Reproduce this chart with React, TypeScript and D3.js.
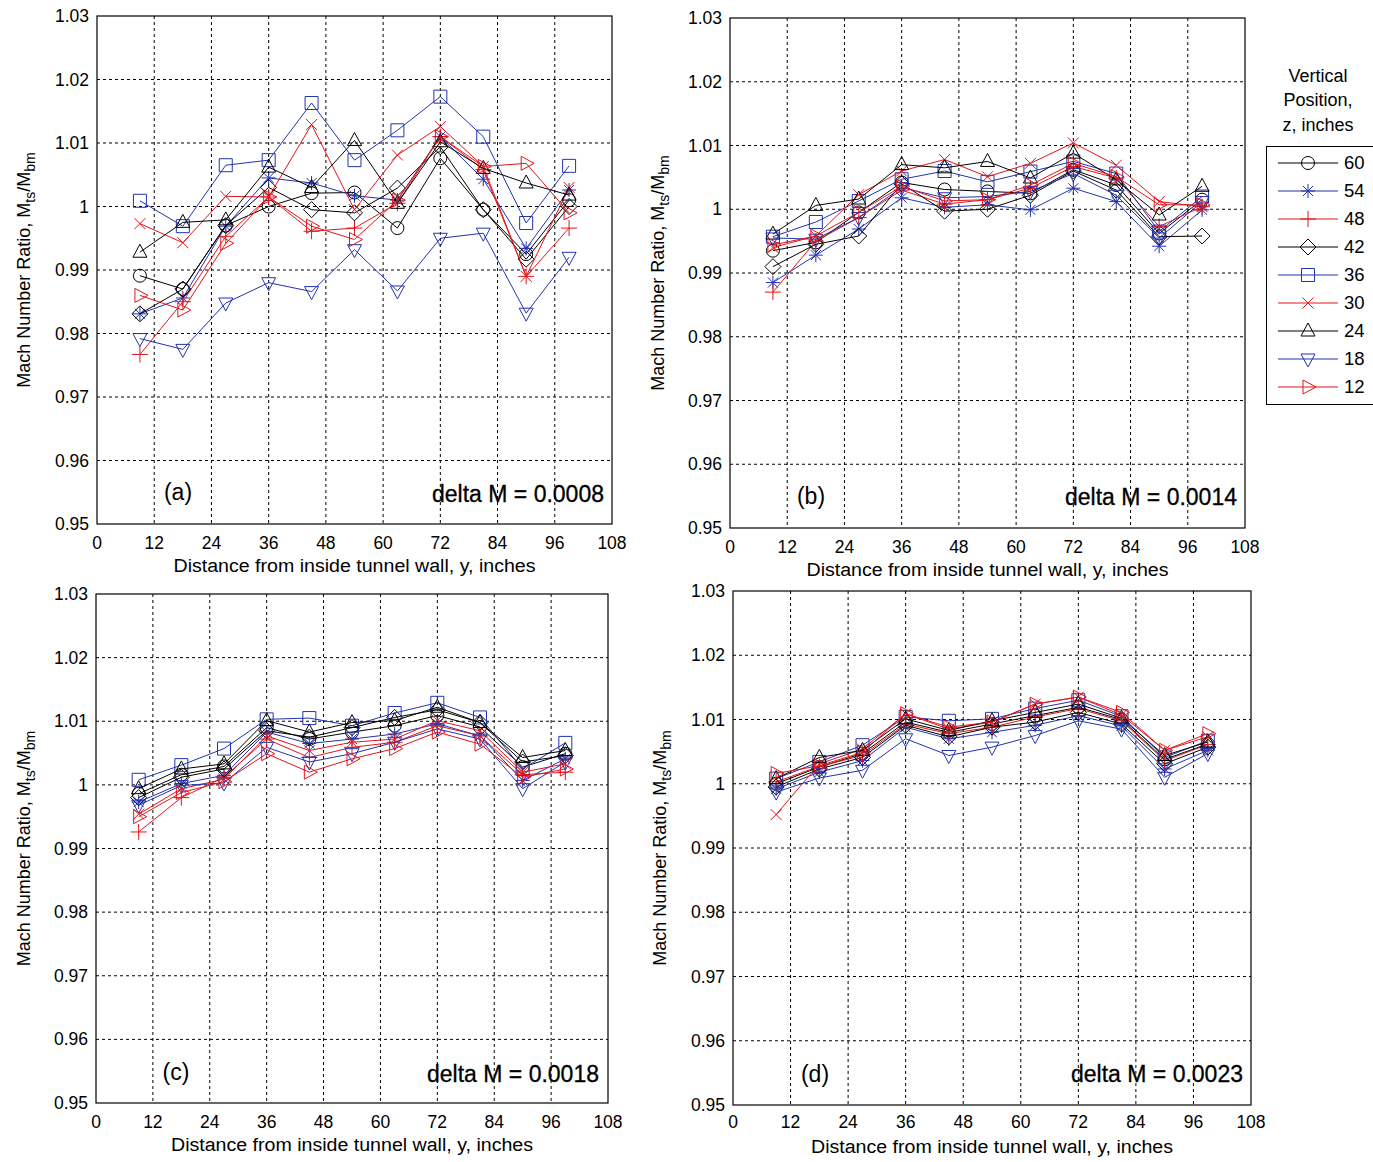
import React from 'react';
import * as d3 from 'd3';

// distance from wall, y (inches)
const stations = [9, 18, 27, 36, 45, 54, 63, 72, 81, 90, 99];
const xTicks = [0, 12, 24, 36, 48, 60, 72, 84, 96, 108];
const yTicks = [0.95, 0.96, 0.97, 0.98, 0.99, 1.0, 1.01, 1.02, 1.03];
const zLabels = ['60', '54', '48', '42', '36', '30', '24', '18', '12'];
const panelTags = ['(a)', '(b)', '(c)', '(d)'];
const deltaLabels = ['delta M = 0.0008', 'delta M = 0.0014', 'delta M = 0.0018', 'delta M = 0.0023'];

// panel (a)
const a60 = [0.9891, 0.987, 0.997, 1.0, 1.0021, 1.0022, 0.9966, 1.0076, 0.9995, 0.9925, 1.001];
const a54 = [0.9831, 0.9856, 0.9969, 1.0045, 1.0037, 1.0017, 1.001, 1.011, 1.0043, 0.9934, 1.0026];
const a48 = [0.9767, 0.985, 0.9953, 1.0015, 0.9961, 0.9966, 1.0005, 1.011, 1.0058, 0.989, 0.9966];
const a42 = [0.9831, 0.987, 0.997, 1.003, 0.9995, 0.999, 1.0029, 1.0094, 0.9995, 0.9917, 1.0];
const a36 = [1.0009, 0.9969, 1.0065, 1.0073, 1.0163, 1.0073, 1.012, 1.0173, 1.011, 0.9974, 1.0064];
const a30 = [0.9973, 0.9943, 1.0016, 1.0015, 1.0129, 0.9995, 1.0081, 1.0126, 1.0063, 0.989, 1.003];
const a24 = [0.9928, 0.9975, 0.9979, 1.0062, 1.003, 1.0104, 1.0005, 1.0102, 1.006, 1.0037, 1.0018];
const a18 = [0.9792, 0.9775, 0.9848, 0.988, 0.9866, 0.9932, 0.9867, 0.995, 0.9958, 0.9832, 0.992];
const a12 = [0.986, 0.9837, 0.9942, 1.0015, 0.9969, 0.9948, 1.001, 1.011, 1.0063, 1.0068, 0.999];

// panel (b)
const b60 = [0.9935, 0.9948, 0.9995, 1.0042, 1.0031, 1.0028, 1.0025, 1.0062, 1.0038, 0.9962, 1.0015];
const b54 = [0.9885, 0.9928, 0.9969, 1.0018, 1.0003, 1.0007, 0.9999, 1.0033, 1.0012, 0.9942, 0.9999];
const b48 = [0.987, 0.995, 0.9987, 1.003, 1.0008, 1.0015, 1.0033, 1.0067, 1.0049, 0.9973, 1.0004];
const b42 = [0.991, 0.9945, 0.9958, 1.004, 0.9997, 1.0, 1.0022, 1.006, 1.003, 0.9957, 0.9958];
const b36 = [0.9957, 0.998, 1.0013, 1.0047, 1.006, 1.0043, 1.0059, 1.0075, 1.0056, 0.9965, 1.002];
const b30 = [0.994, 0.9958, 1.0023, 1.006, 1.0078, 1.0051, 1.0072, 1.0104, 1.0069, 1.0012, 1.0004];
const b24 = [0.9961, 1.0006, 1.0016, 1.007, 1.0065, 1.0075, 1.0049, 1.0088, 1.0046, 0.9991, 1.0036];
const b18 = [0.9955, 0.9953, 0.9987, 1.0034, 1.0018, 1.002, 1.0028, 1.0056, 1.0022, 0.9955, 1.0012];
const b12 = [0.9944, 0.9958, 0.9995, 1.0036, 1.0013, 1.0015, 1.0038, 1.0072, 1.0051, 1.0007, 1.0007];

// panel (c)
const c60 = [0.9986, 1.0016, 1.0029, 1.009, 1.0072, 1.0083, 1.0093, 1.0109, 1.0091, 1.0028, 1.0049];
const c54 = [0.9973, 1.0002, 1.0015, 1.0083, 1.0065, 1.0072, 1.008, 1.0096, 1.0077, 1.0007, 1.0041];
const c48 = [0.9926, 0.998, 1.0012, 1.0072, 1.0043, 1.0059, 1.0067, 1.0093, 1.0077, 1.0016, 1.002];
const c42 = [0.998, 1.0012, 1.0025, 1.0085, 1.0075, 1.009, 1.0106, 1.0118, 1.0098, 1.0036, 1.0046];
const c36 = [1.0008, 1.0031, 1.0057, 1.0103, 1.0105, 1.0093, 1.0113, 1.0129, 1.0106, 1.0025, 1.0066];
const c30 = [0.9954, 0.9994, 1.0009, 1.0077, 1.0054, 1.0067, 1.0072, 1.0101, 1.0085, 1.002, 1.0033];
const c24 = [0.9994, 1.0025, 1.0033, 1.0101, 1.0083, 1.0098, 1.0101, 1.0122, 1.0098, 1.0043, 1.0054];
const c18 = [0.9968, 0.9999, 1.0003, 1.0059, 1.0036, 1.0049, 1.0067, 1.0088, 1.0072, 0.9994, 1.0036];
const c12 = [0.995, 0.9988, 1.0005, 1.0049, 1.002, 1.0041, 1.0057, 1.0083, 1.0064, 1.0012, 1.0025];

// panel (d)
const d60 = [1.0, 1.0026, 1.0047, 1.0096, 1.008, 1.0093, 1.0106, 1.0119, 1.01, 1.0038, 1.0062];
const d54 = [0.9992, 1.0018, 1.0036, 1.0088, 1.007, 1.008, 1.0091, 1.0106, 1.009, 1.0023, 1.0052];
const d48 = [1.0003, 1.0027, 1.0044, 1.0093, 1.0078, 1.0088, 1.0104, 1.0117, 1.0098, 1.0036, 1.0061];
const d42 = [0.9995, 1.0023, 1.0041, 1.0091, 1.0073, 1.0088, 1.0096, 1.0111, 1.0093, 1.0031, 1.0057];
const d36 = [1.0008, 1.0034, 1.006, 1.0104, 1.0098, 1.0101, 1.0117, 1.013, 1.0105, 1.0041, 1.0067];
const d30 = [0.9952, 1.0031, 1.0054, 1.0109, 1.0085, 1.0096, 1.0124, 1.0135, 1.0107, 1.0052, 1.0073];
const d24 = [1.0008, 1.0041, 1.0052, 1.0101, 1.0083, 1.0098, 1.0111, 1.0124, 1.0102, 1.0044, 1.0065];
const d18 = [0.9987, 1.0009, 1.0021, 1.007, 1.0044, 1.0057, 1.0075, 1.0098, 1.0085, 1.001, 1.0047];
const d12 = [1.0016, 1.0028, 1.0049, 1.0109, 1.0088, 1.0096, 1.0124, 1.0135, 1.0111, 1.0052, 1.0078];

const panelData = [
  [a60, a54, a48, a42, a36, a30, a24, a18, a12],
  [b60, b54, b48, b42, b36, b30, b24, b18, b12],
  [c60, c54, c48, c42, c36, c30, c24, c18, c12],
  [d60, d54, d48, d42, d36, d30, d24, d18, d12],
];

const BLACK = '#000000';
const BLUE = '#2233b0';
const RED = '#e3141b';

const styles = [
  {color: BLACK, marker: 'circle'},
  {color: BLUE, marker: 'star'},
  {color: RED, marker: 'plus'},
  {color: BLACK, marker: 'diamond'},
  {color: BLUE, marker: 'square'},
  {color: RED, marker: 'x'},
  {color: BLACK, marker: 'up'},
  {color: BLUE, marker: 'down'},
  {color: RED, marker: 'right'},
];

// plot boxes, label positions
const layout = [
  {l: 97, r: 612, t: 16, b: 524, ylabX: 30, tagX: 178, tagY: 500, dX: 604, dY: 502, xlabY: 572, xtY: 548},
  {l: 730, r: 1245, t: 18, b: 528, ylabX: 664, tagX: 811, tagY: 504, dX: 1237, dY: 505, xlabY: 576, xtY: 552},
  {l: 96, r: 608, t: 594, b: 1103, ylabX: 30, tagX: 176, tagY: 1080, dX: 599, dY: 1082, xlabY: 1151, xtY: 1127},
  {l: 733, r: 1251, t: 591, b: 1105, ylabX: 666, tagX: 815, tagY: 1082, dX: 1243, dY: 1082, xlabY: 1153, xtY: 1127},
];

const FONT = 'Arial, "Liberation Sans", sans-serif';

const markerPath = (kind: string) => {
  const s = 6.5;
  switch (kind) {
    case 'circle':
      return d3.symbol(d3.symbolCircle, Math.PI * s * s)();
    case 'square':
      return `M${-s},${-s}h${2 * s}v${2 * s}h${-2 * s}Z`;
    case 'diamond':
      return `M0,${-8}L8,0L0,8L-8,0Z`;
    case 'up':
      return `M0,-8L7,5L-7,5Z`;
    case 'down':
      return `M0,8L7,-5L-7,-5Z`;
    case 'right':
      return `M8,0L-5,-7L-5,7Z`;
    case 'plus':
      return `M-8,0H8M0,-8V8`;
    case 'x':
      return `M-5.5,-5.5L5.5,5.5M-5.5,5.5L5.5,-5.5`;
    case 'star':
      return `M-7,0H7M0,-7V7M-5,-5L5,5M-5,5L5,-5`;
    default:
      return '';
  }
};

const Panel = ({idx}: {idx: number}) => {
  const L = layout[idx];
  const x = d3.scaleLinear().domain([0, 108]).range([L.l, L.r]);
  const y = d3.scaleLinear().domain([0.95, 1.03]).range([L.b, L.t]);
  const line = d3.line<number>().x((_, i) => x(stations[i])).y(d => y(d));
  const cy = (L.t + L.b) / 2;

  return (
    <g>
      <rect x={L.l} y={L.t} width={L.r - L.l} height={L.b - L.t} fill="#fff" />
      {xTicks.slice(1, -1).map(t => (
        <line key={'gx' + t} x1={x(t)} x2={x(t)} y1={L.t} y2={L.b} stroke="#000" strokeDasharray="3,3" />
      ))}
      {yTicks.slice(1, -1).map(t => (
        <line key={'gy' + t} x1={L.l} x2={L.r} y1={y(t)} y2={y(t)} stroke="#000" strokeDasharray="3,3" />
      ))}
      {panelData[idx].map((vals, si) => (
        <g key={'s' + si}>
          <path d={line(vals) || ''} fill="none" stroke={styles[si].color} strokeWidth={1} />
          {vals.map((v, i) => (
            <path key={i} transform={`translate(${x(stations[i])},${y(v)})`} d={markerPath(styles[si].marker) || ''}
              fill="none" stroke={styles[si].color} strokeWidth={1} />
          ))}
        </g>
      ))}
      <rect x={L.l} y={L.t} width={L.r - L.l} height={L.b - L.t} fill="none" stroke="#000" strokeWidth={1.2} />
      {yTicks.map(t => (
        <text key={'yt' + t} x={L.l - 8} y={y(t) + 6} textAnchor="end" fontSize={17.5} fontFamily={FONT}>
          {t === 1 ? '1' : t.toFixed(2)}
        </text>
      ))}
      {xTicks.map(t => (
        <text key={'xt' + t} x={x(t)} y={L.xtY + 1} textAnchor="middle" fontSize={17.5} fontFamily={FONT}>{t}</text>
      ))}
      <text x={(L.l + L.r) / 2} y={L.xlabY} textAnchor="middle" fontSize={18} fontFamily={FONT}
        textLength={362} lengthAdjust="spacingAndGlyphs">
        Distance from inside tunnel wall, y, inches
      </text>
      <text transform={`translate(${L.ylabX},${cy}) rotate(-90)`} textAnchor="middle" fontSize={18} fontFamily={FONT}>
        Mach Number Ratio, M<tspan dy={5} fontSize={14}>ts</tspan>
        <tspan dy={-5}>/M</tspan><tspan dy={5} fontSize={14}>bm</tspan>
      </text>
      <text x={L.tagX} y={L.tagY} textAnchor="middle" fontSize={23} fontFamily={FONT}>{panelTags[idx]}</text>
      <text x={L.dX} y={L.dY} textAnchor="end" fontSize={23} fontFamily={FONT} stroke="#000" strokeWidth={0.3}>
        {deltaLabels[idx]}
      </text>
    </g>
  );
};

const Legend = () => {
  const rowY = d3.scaleLinear().domain([0, 8]).range([163, 387]);
  return (
    <g fontFamily={FONT}>
      <text x={1318} y={82} textAnchor="middle" fontSize={18}>Vertical</text>
      <text x={1318} y={106} textAnchor="middle" fontSize={18}>Position,</text>
      <text x={1318} y={131} textAnchor="middle" fontSize={18}>z, inches</text>
      <rect x={1266.5} y={146.5} width={120} height={258} fill="#fff" stroke="#000" strokeWidth={1} />
      {zLabels.map((z, i) => (
        <g key={z}>
          <line x1={1278} x2={1338} y1={rowY(i)} y2={rowY(i)} stroke={styles[i].color} />
          <path transform={`translate(1308,${rowY(i)})`} d={markerPath(styles[i].marker) || ''}
            fill="none" stroke={styles[i].color} />
          <text x={1344} y={rowY(i) + 6} fontSize={18.5}>{z}</text>
        </g>
      ))}
    </g>
  );
};

export default function App() {
  return (
    <svg width={1373} height={1162} style={{position: 'absolute', left: 0, top: 0, background: '#fff'}}>
      <rect width={1373} height={1162} fill="#fff" />
      {[0, 1, 2, 3].map(i => <Panel key={i} idx={i} />)}
      <Legend />
    </svg>
  );
}
